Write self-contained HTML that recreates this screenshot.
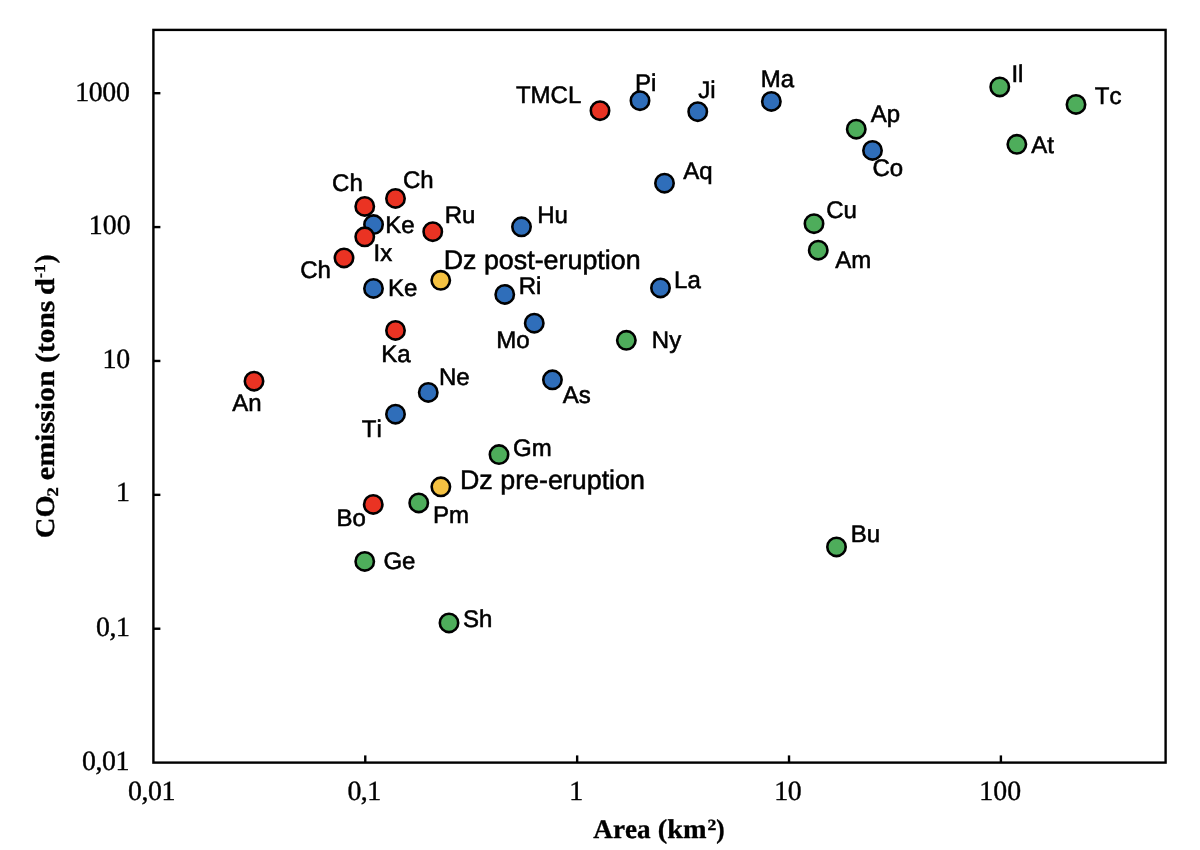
<!DOCTYPE html>
<html><head><meta charset="utf-8"><title>chart</title>
<style>
html,body{margin:0;padding:0;background:#fff;}
body{width:1200px;height:850px;overflow:hidden;font-family:"Liberation Sans",sans-serif;}
svg{display:block;will-change:transform;}
text{font-kerning:none;text-rendering:geometricPrecision;fill:#000;}
.l{font-family:"Liberation Sans",sans-serif;font-size:24px;stroke:#000;stroke-width:0.55px;}
.b{font-family:"Liberation Sans",sans-serif;font-size:26.85px;stroke:#000;stroke-width:0.55px;}
.t{font-family:"Liberation Serif",serif;font-size:27.8px;letter-spacing:-0.15px;stroke:#000;stroke-width:0.4px;}
.a{font-family:"Liberation Serif",serif;font-weight:bold;font-size:27px;stroke:#000;stroke-width:0.35px;}
.m{stroke:#000;stroke-width:2.6;}
.f{stroke:#000;stroke-width:2.4;fill:none;}
</style></head><body>
<svg width="1200" height="850" viewBox="0 0 1200 850">
<rect x="0" y="0" width="1200" height="850" fill="#fff"/>
<g class="f">
<rect x="153.4" y="29.9" width="1012.2" height="732.7"/>
<line x1="153.4" y1="93.20" x2="160.4" y2="93.20"/>
<line x1="153.4" y1="227.08" x2="160.4" y2="227.08"/>
<line x1="153.4" y1="360.96" x2="160.4" y2="360.96"/>
<line x1="153.4" y1="494.84" x2="160.4" y2="494.84"/>
<line x1="153.4" y1="628.72" x2="160.4" y2="628.72"/>
<line x1="365.27" y1="762.6" x2="365.27" y2="755.4"/>
<line x1="577.15" y1="762.6" x2="577.15" y2="755.4"/>
<line x1="789.02" y1="762.6" x2="789.02" y2="755.4"/>
<line x1="1000.90" y1="762.6" x2="1000.90" y2="755.4"/>
</g>
<text class="t" x="75.16" y="100.8" style="letter-spacing:-0.3px">1000</text>
<text class="t" x="88.66" y="234.4" style="letter-spacing:0.1px">100</text>
<text class="t" x="102.56" y="367.9" style="letter-spacing:-0.3px">10</text>
<text class="t" x="116.01" y="501.4" style="letter-spacing:0px">1</text>
<text class="t" x="95.98" y="635.8" style="letter-spacing:-0.45px">0,1</text>
<text class="t" x="82.01" y="769.7" style="letter-spacing:-0.45px">0,01</text>
<text class="t" x="128.11" y="800.1" style="letter-spacing:-0.45px">0,01</text>
<text class="t" x="347.38" y="800.1" style="letter-spacing:-0.45px">0,1</text>
<text class="t" x="569.16" y="800.1" style="letter-spacing:0px">1</text>
<text class="t" x="774.16" y="800.1" style="letter-spacing:-0.3px">10</text>
<text class="t" x="979.26" y="800.1" style="letter-spacing:0.1px">100</text>
<g transform="translate(0,838.1)">
<text class="a" x="593.34" y="0" style="font-size:27px" textLength="57.17" lengthAdjust="spacingAndGlyphs">Area</text>
<text class="a" x="657.81" y="0" style="font-size:27px" textLength="48.62" lengthAdjust="spacingAndGlyphs">(km</text>
<text class="a" x="707.46" y="-8.1" style="font-size:15.5px" textLength="8.79" lengthAdjust="spacingAndGlyphs">2</text>
<text class="a" x="716.19" y="0" style="font-size:27px" textLength="8.36" lengthAdjust="spacingAndGlyphs">)</text>
</g>
<g transform="translate(54.2,537.1) rotate(-90)">
<text class="a" x="-1.09" y="0" style="font-size:27px" textLength="42.79" lengthAdjust="spacingAndGlyphs">CO</text>
<text class="a" x="40.72" y="4.0" style="font-size:16px" textLength="9.28" lengthAdjust="spacingAndGlyphs">2</text>
<text class="a" x="56.98" y="0" style="font-size:27px" textLength="109.67" lengthAdjust="spacingAndGlyphs">emission</text>
<text class="a" x="174.31" y="0" style="font-size:27px" textLength="61.90" lengthAdjust="spacingAndGlyphs">(tons</text>
<text class="a" x="242.07" y="0" style="font-size:27px" textLength="16.87" lengthAdjust="spacingAndGlyphs">d</text>
<text class="a" x="259.31" y="-9.2" style="font-size:16px" textLength="4.49" lengthAdjust="spacingAndGlyphs">-</text>
<text class="a" x="264.19" y="-9.2" style="font-size:16px" textLength="8.83" lengthAdjust="spacingAndGlyphs">1</text>
<text class="a" x="273.62" y="0" style="font-size:27px" textLength="9.08" lengthAdjust="spacingAndGlyphs">)</text>
</g>
<g class="m" fill="#4EAD5B">
<circle cx="499.00" cy="454.60" r="9.2"/>
<circle cx="418.75" cy="502.90" r="9.2"/>
<circle cx="364.75" cy="561.40" r="9.2"/>
<circle cx="449.00" cy="622.90" r="9.2"/>
<circle cx="626.35" cy="340.30" r="9.2"/>
<circle cx="856.25" cy="129.15" r="9.2"/>
<circle cx="999.75" cy="86.90" r="9.2"/>
<circle cx="1076.00" cy="104.40" r="9.2"/>
<circle cx="1016.85" cy="144.30" r="9.2"/>
<circle cx="814.00" cy="223.65" r="9.2"/>
<circle cx="818.25" cy="250.15" r="9.2"/>
<circle cx="836.50" cy="546.90" r="9.2"/>
</g>
<g class="m" fill="#2F6EBA">
<circle cx="373.55" cy="224.60" r="9.2"/>
<circle cx="373.50" cy="288.40" r="9.2"/>
<circle cx="521.50" cy="226.80" r="9.2"/>
<circle cx="504.75" cy="294.40" r="9.2"/>
<circle cx="534.25" cy="323.15" r="9.2"/>
<circle cx="660.50" cy="287.90" r="9.2"/>
<circle cx="552.45" cy="379.80" r="9.2"/>
<circle cx="428.25" cy="392.40" r="9.2"/>
<circle cx="395.50" cy="414.15" r="9.2"/>
<circle cx="640.00" cy="100.65" r="9.2"/>
<circle cx="697.75" cy="111.65" r="9.2"/>
<circle cx="771.35" cy="101.40" r="9.2"/>
<circle cx="664.50" cy="183.15" r="9.2"/>
<circle cx="872.50" cy="150.40" r="9.2"/>
</g>
<g class="m" fill="#EA3323">
<circle cx="364.75" cy="206.40" r="9.2"/>
<circle cx="395.50" cy="198.40" r="9.2"/>
<circle cx="364.75" cy="236.80" r="9.2"/>
<circle cx="344.00" cy="257.90" r="9.2"/>
<circle cx="432.75" cy="231.65" r="9.2"/>
<circle cx="395.50" cy="330.40" r="9.2"/>
<circle cx="254.00" cy="381.15" r="9.2"/>
<circle cx="373.25" cy="504.40" r="9.2"/>
<circle cx="600.00" cy="110.65" r="9.2"/>
</g>
<g class="m" fill="#F5C242">
<circle cx="440.75" cy="280.30" r="9.2"/>
<circle cx="440.85" cy="486.80" r="9.2"/>
</g>
<text class="l" x="332.08" y="191.25">Ch</text>
<text class="l" x="402.96" y="187.5">Ch</text>
<text class="l" x="385.25" y="232.5">Ke</text>
<text class="l" x="444.77" y="222.8">Ru</text>
<text class="l" x="373.56" y="260.75">Ix</text>
<text class="l" x="300.21" y="278.25">Ch</text>
<text class="l" x="388.00" y="296.25">Ke</text>
<text class="l" x="381.34" y="361.5">Ka</text>
<text class="l" x="232.33" y="411.25">An</text>
<text class="l" x="439.01" y="385">Ne</text>
<text class="l" x="361.79" y="436.75">Ti</text>
<text class="l" x="513.11" y="456.0">Gm</text>
<text class="l" x="433.06" y="522.5">Pm</text>
<text class="l" x="336.59" y="526.25">Bo</text>
<text class="l" x="383.42" y="568.75">Ge</text>
<text class="l" x="463.06" y="627.0">Sh</text>
<text class="l" x="537.17" y="223.0">Hu</text>
<text class="l" x="518.74" y="294.1">Ri</text>
<text class="l" x="674.04" y="287.5">La</text>
<text class="l" x="496.22" y="347.75">Mo</text>
<text class="l" x="651.87" y="347.5">Ny</text>
<text class="l" x="562.81" y="403.3">As</text>
<text class="l" x="515.94" y="103.25">TMCL</text>
<text class="l" x="635.03" y="91.25">Pi</text>
<text class="l" x="698.21" y="97.5">Ji</text>
<text class="l" x="760.65" y="87">Ma</text>
<text class="l" x="683.32" y="178.75">Aq</text>
<text class="l" x="870.80" y="121.75">Ap</text>
<text class="l" x="872.43" y="176.45">Co</text>
<text class="l" x="1011.42" y="81.95">Il</text>
<text class="l" x="1094.84" y="103.75">Tc</text>
<text class="l" x="1031.23" y="152.5">At</text>
<text class="l" x="826.22" y="218">Cu</text>
<text class="l" x="835.27" y="268">Am</text>
<text class="l" x="850.63" y="541.75">Bu</text>
<text class="b" x="443.65" y="269.1">Dz post-eruption</text>
<text class="b" x="459.94" y="488.9">Dz pre-eruption</text>
</svg>
</body></html>
